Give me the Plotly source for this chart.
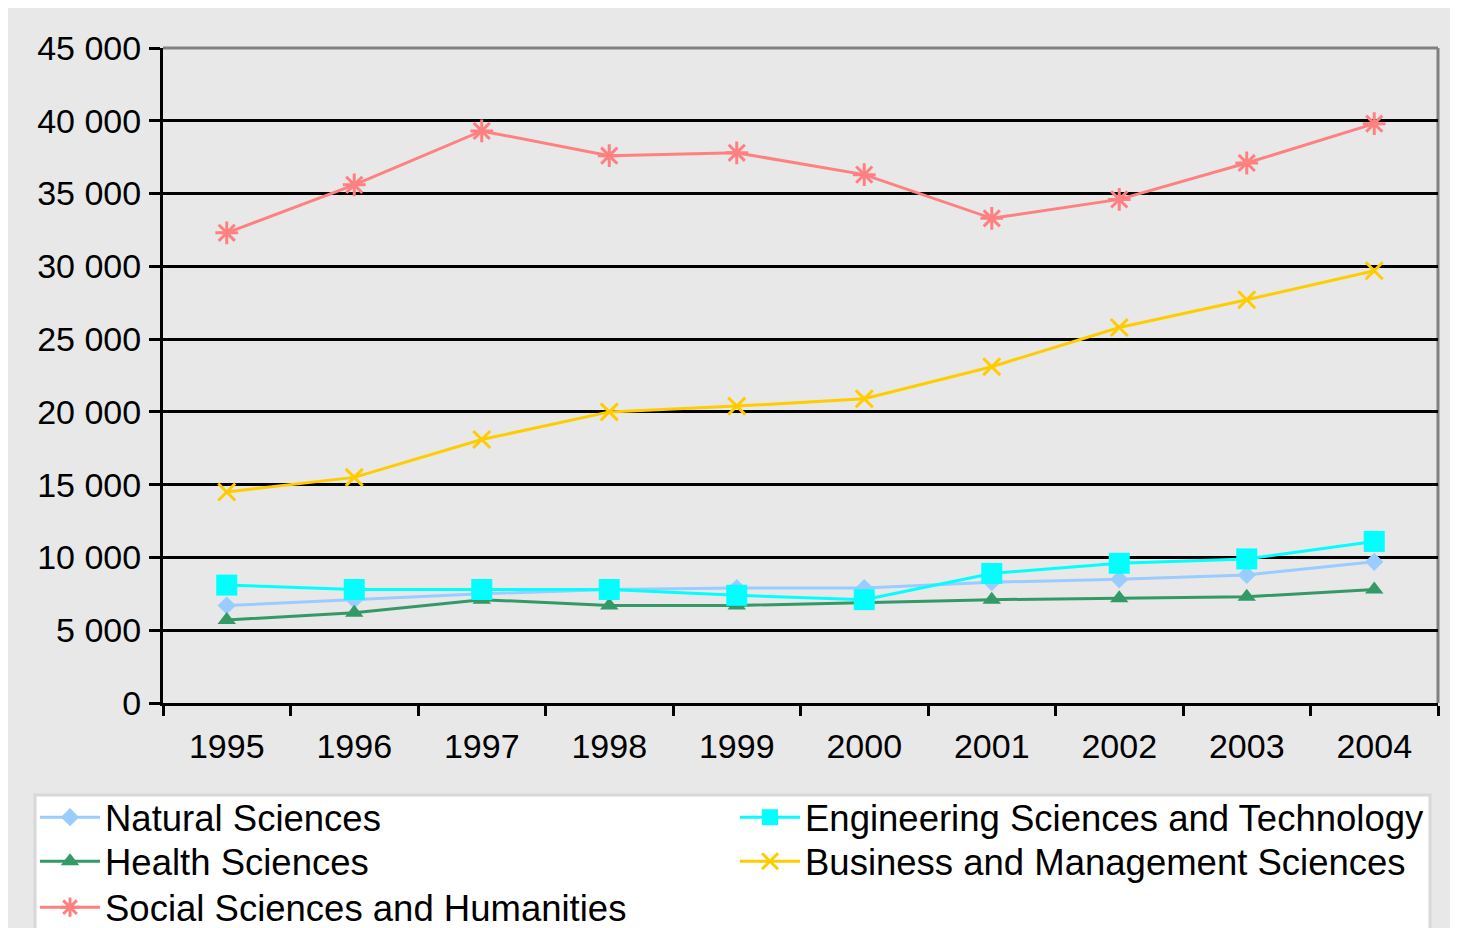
import plotly.graph_objects as go

years = ["1995", "1996", "1997", "1998", "1999", "2000", "2001", "2002", "2003", "2004"]
natural = [6700, 7100, 7500, 7800, 7900, 7900, 8300, 8500, 8800, 9700]
health = [5700, 6200, 7100, 6700, 6700, 6900, 7100, 7200, 7300, 7800]
social = [32300, 35600, 39300, 37600, 37800, 36300, 33300, 34600, 37100, 39800]
engineering = [8100, 7800, 7800, 7800, 7400, 7100, 8900, 9600, 9900, 11100]
business = [14500, 15500, 18100, 20000, 20400, 20900, 23100, 25800, 27700, 29700]

ytickvals = [0, 5000, 10000, 15000, 20000, 25000, 30000, 35000, 40000, 45000]
yticktext = ["0", "5 000", "10 000", "15 000", "20 000", "25 000", "30 000", "35 000", "40 000", "45 000"]

OFF = 8  # page body margin
W, H = 1450, 920
ML, MT = 163 - OFF, 48 - OFF
PW, PH = 1275, 655
MR = W - ML - PW
MB = H - MT - PH


def px2x(px):  # screen px -> paper x
    return (px - OFF - ML) / PW


def px2y(py):  # screen py -> paper y
    return (H - MB - (py - OFF)) / PH


FONT = "Liberation Sans, Arial, sans-serif"

fig = go.Figure()

series = [
    ("Natural Sciences", natural, "#99CCFF", dict(symbol="diamond", size=14), "legend"),
    ("Health Sciences", health, "#339966", dict(symbol="triangle-up", size=16), "legend2"),
    ("Social Sciences and Humanities", social, "#FF8080",
     dict(symbol="asterisk-open", size=19, line=dict(width=3, color="#FF8080")), "legend3"),
    ("Engineering Sciences and Technology", engineering, "#00FFFF", dict(symbol="square", size=21), "legend"),
    ("Business and Management Sciences", business, "#FFCC00",
     dict(symbol="x-thin-open", size=17, line=dict(width=3, color="#FFCC00")), "legend2"),
]

for name, vals, color, marker, leg in series:
    m = dict(color=color)
    m.update(marker)
    fig.add_trace(go.Scatter(
        x=years, y=vals, name=name, mode="lines+markers",
        line=dict(color=color, width=3), marker=m, legend=leg,
    ))

shapes = [
    dict(type="rect", xref="paper", yref="paper", x0=px2x(6), x1=px2x(1452), y0=px2y(940), y1=px2y(7),
         fillcolor="#E8E8E8", line=dict(width=0), layer="below"),
    dict(type="rect", xref="paper", yref="paper", x0=px2x(35), x1=px2x(1430), y0=px2y(940), y1=px2y(795),
         fillcolor="#FFFFFF", line=dict(color="#D8D8D8", width=3), layer="below"),
    dict(type="line", xref="paper", yref="paper", x0=0, x1=1, y0=1, y1=1,
         line=dict(color="#808080", width=3), layer="between"),
    dict(type="line", xref="paper", yref="paper", x0=1, x1=1, y0=0, y1=1,
         line=dict(color="#808080", width=3), layer="between"),
]

leg_common = dict(
    orientation="h", xanchor="left", yanchor="top",
    entrywidth=625, entrywidthmode="pixels",
    bgcolor="rgba(0,0,0,0)", font=dict(size=36.5, family=FONT, color="#000000"),
    tracegroupgap=0, itemwidth=60, traceorder="normal",
)

fig.update_layout(
    width=W, height=H,
    margin=dict(l=ML, r=MR, t=MT, b=MB, pad=0, autoexpand=False),
    paper_bgcolor="#FFFFFF",
    plot_bgcolor="#E8E8E8",
    font=dict(family=FONT, color="#000000", size=34),
    shapes=shapes,
    showlegend=True,
    legend=dict(leg_common, x=px2x(35), y=px2y(787)),
    legend2=dict(leg_common, x=px2x(35), y=px2y(831)),
    legend3=dict(leg_common, x=px2x(35), y=px2y(877)),
    xaxis=dict(
        type="category", range=[-0.5, 9.5], showgrid=False, zeroline=False,
        showline=True, linecolor="#000000", linewidth=3,
        ticks="outside", tickson="boundaries", ticklen=10, tickwidth=3, tickcolor="#000000",
        tickfont=dict(size=34, family=FONT), ticklabelstandoff=11,
    ),
    yaxis=dict(
        range=[0, 45000], tickvals=ytickvals, ticktext=yticktext,
        showgrid=True, gridcolor="#000000", gridwidth=3, zeroline=False,
        showline=True, linecolor="#000000", linewidth=3,
        ticks="outside", ticklen=11, tickwidth=3, tickcolor="#000000",
        tickfont=dict(size=34, family=FONT), ticklabelstandoff=1,
    ),
)

fig.write_html("out.html")
